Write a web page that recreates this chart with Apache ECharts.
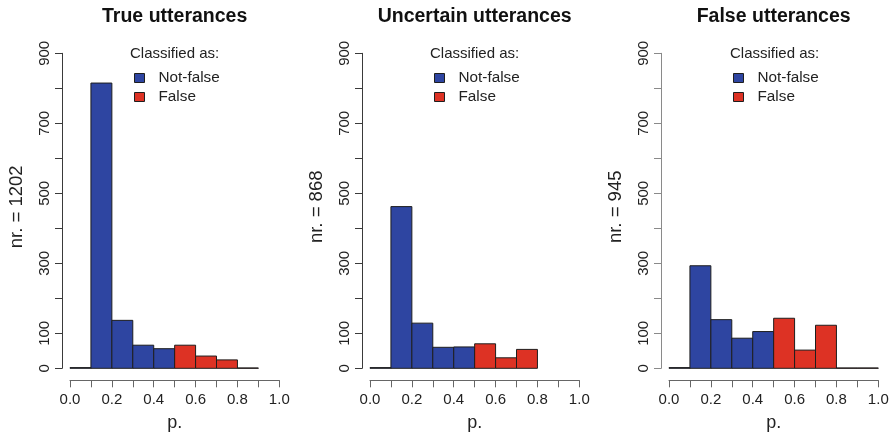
<!DOCTYPE html>
<html>
<head>
<meta charset="utf-8">
<script src="https://cdn.jsdelivr.net/npm/echarts@6/dist/echarts.min.js"></script>
<style>
html,body{margin:0;padding:0;background:#fff;}
#chart{width:895px;height:435px;}
</style>
</head>
<body>
<div id="chart"></div>
<script>
// ---- data ----
const binStarts = [0.0, 0.1, 0.2, 0.3, 0.4, 0.5, 0.6, 0.7, 0.8, 0.9];
const binWidth = 0.1;
const falseThreshold = 0.5; // bins starting at or above this are "False"
const panelTitles = ['True utterances', 'Uncertain utterances', 'False utterances'];
const panelTotals = [1202, 868, 945];
const trueCounts      = [2, 815, 137, 66, 56, 66, 35, 24, 1, 0];
const uncertainCounts = [2, 462, 129, 60, 61, 70, 30, 54, 0, 0];
const falseCounts     = [2, 293, 139, 86, 105, 143, 52, 123, 1, 1];
const seriesNames = ['Not-false', 'False'];
const legendTitle = 'Classified as:';
const xTickLabels = ['0.0', '0.2', '0.4', '0.6', '0.8', '1.0'];
const yTickLabels = [0, 100, 300, 500, 700, 900];
const xAxisTitle = 'p.';

const panelCounts = [trueCounts, uncertainCounts, falseCounts];

// ---- layout ----
const FONT = '"Liberation Sans", Arial, Helvetica, sans-serif';
const gridLefts = [70, 370, 669];
const gridW = 209.3, gridTop = 53.3, gridH = 315;
const BLUE = '#2E45A1', RED = '#DD3224', EDGE = '#1e1e1e';
const yAxisColors = ['#3a3a3a', '#3a3a3a', '#8a8a8a'];

const chart = echarts.init(document.getElementById('chart'), null, {renderer: 'canvas'});

function renderBar(params, api) {
  const c = api.value(2);
  if (!c) return null;
  const p0 = api.coord([api.value(0), c]);
  const p1 = api.coord([api.value(1), 0]);
  return {
    type: 'rect',
    shape: {x: p0[0], y: p0[1], width: p1[0] - p0[0], height: p1[1] - p0[1]},
    style: {fill: api.visual('color'), stroke: EDGE, lineWidth: 1}
  };
}

const grids = [], xAxes = [], yAxes = [], series = [], legends = [], graphics = [];
for (let i = 0; i < 3; i++) {
  grids.push({left: gridLefts[i], top: gridTop, width: gridW, height: gridH, outerBoundsMode: 'none'});
  xAxes.push({
    type: 'value', gridIndex: i, min: 0, max: 1, interval: 0.1, offset: 12,
    axisLine: {show: true, onZero: false, lineStyle: {color: '#666', width: 1}},
    axisTick: {show: true, length: 7, lineStyle: {color: '#666'}},
    splitLine: {show: false},
    axisLabel: {
      fontFamily: FONT, fontSize: 15, color: '#222', margin: 12,
      formatter: v => { const s = v.toFixed(1); return xTickLabels.indexOf(s) >= 0 ? s : ''; }
    },
    name: xAxisTitle, nameLocation: 'middle', nameGap: 34,
    nameTextStyle: {fontFamily: FONT, fontSize: 18, color: '#222'}
  });
  yAxes.push({
    type: 'value', gridIndex: i, min: 0, max: 900, interval: 100, offset: 8,
    axisLine: {show: true, onZero: false, lineStyle: {color: yAxisColors[i], width: 1}},
    axisTick: {show: true, length: 7, lineStyle: {color: yAxisColors[i]}},
    splitLine: {show: false},
    axisLabel: {
      fontFamily: FONT, fontSize: 15, color: '#222', margin: 10, rotate: 90,
      formatter: v => yTickLabels.indexOf(v) >= 0 ? String(v) : ''
    },
    name: 'nr. = ' + panelTotals[i], nameLocation: 'middle', nameGap: 36, nameRotate: 90,
    nameTextStyle: {fontFamily: FONT, fontSize: 18.5, color: '#222', padding: [0, 0, 0, 8]}
  });
  const counts = panelCounts[i];
  const nf = [], fa = [];
  binStarts.forEach((s, k) => {
    const row = [s, s + binWidth, counts[k]];
    if (s < falseThreshold - 1e-9) nf.push(row); else fa.push(row);
  });
  series.push({
    type: 'custom', name: seriesNames[0], xAxisIndex: i, yAxisIndex: i,
    itemStyle: {color: BLUE}, renderItem: renderBar, data: nf,
    encode: {x: [0, 1], y: 2}, silent: true
  });
  series.push({
    type: 'custom', name: seriesNames[1], xAxisIndex: i, yAxisIndex: i,
    itemStyle: {color: RED}, renderItem: renderBar, data: fa,
    encode: {x: [0, 1], y: 2}, silent: true
  });
  const legLeft = [134, 434, 733][i];
  legends.push({
    left: legLeft, top: 70, padding: 0, orient: 'vertical', data: seriesNames,
    icon: 'rect', itemWidth: 10, itemHeight: 9, itemGap: 3,
    selectedMode: false,
    itemStyle: {borderColor: EDGE, borderWidth: 1},
    textStyle: {fontFamily: FONT, fontSize: 15.3, color: '#222', lineHeight: 16, padding: [0, 0, 0, 9]}
  });
  graphics.push({
    type: 'text', x: gridLefts[i] + gridW / 2, y: 17,
    style: {text: panelTitles[i], font: 'bold 19.5px ' + FONT, fill: '#111', align: 'center', verticalAlign: 'middle'}
  });
  graphics.push({
    type: 'text', x: [130, 430, 730][i], y: 54,
    style: {text: legendTitle, font: '15px ' + FONT, fill: '#222', align: 'left', verticalAlign: 'middle'}
  });
}

chart.setOption({
  animation: false,
  backgroundColor: '#fff',
  grid: grids,
  xAxis: xAxes,
  yAxis: yAxes,
  legend: legends,
  series: series,
  graphic: graphics
});
</script>
</body>
</html>
